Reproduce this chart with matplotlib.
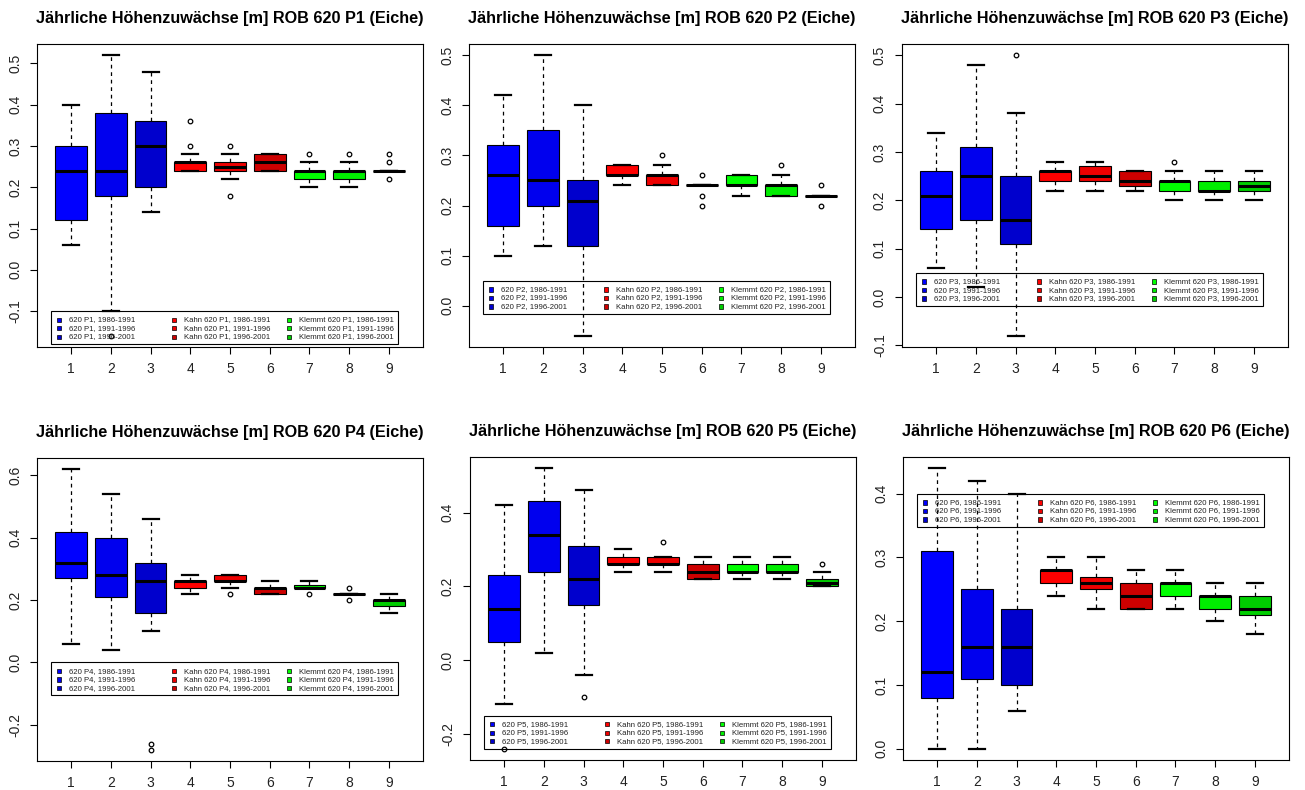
import matplotlib
matplotlib.use('Agg')
import matplotlib.pyplot as plt
import matplotlib.transforms as mtransforms
from matplotlib.patches import Rectangle

plt.rcParams['font.family'] = ['Liberation Sans', 'DejaVu Sans']

# --- box statistics (whisker low, q1, median, q3, whisker high, outliers)
P1_LOW = [0.06, -0.10, 0.14, 0.24, 0.22, 0.24, 0.20, 0.20, 0.24]
P1_Q1 = [0.12, 0.18, 0.20, 0.24, 0.24, 0.24, 0.22, 0.22, 0.24]
P1_MED = [0.24, 0.24, 0.30, 0.26, 0.25, 0.26, 0.24, 0.24, 0.24]
P1_Q3 = [0.30, 0.38, 0.36, 0.26, 0.26, 0.28, 0.24, 0.24, 0.24]
P1_HIGH = [0.40, 0.52, 0.48, 0.28, 0.28, 0.28, 0.26, 0.26, 0.24]
P1_OUT = [[], [-0.16], [], [0.36, 0.30], [0.30, 0.18], [], [0.28], [0.28], [0.28, 0.26, 0.22]]

P2_LOW = [0.10, 0.12, -0.06, 0.24, 0.24, 0.24, 0.22, 0.22, 0.22]
P2_Q1 = [0.16, 0.20, 0.12, 0.26, 0.24, 0.24, 0.24, 0.22, 0.22]
P2_MED = [0.26, 0.25, 0.21, 0.26, 0.26, 0.24, 0.24, 0.24, 0.22]
P2_Q3 = [0.32, 0.35, 0.25, 0.28, 0.26, 0.24, 0.26, 0.24, 0.22]
P2_HIGH = [0.42, 0.50, 0.40, 0.28, 0.28, 0.24, 0.26, 0.26, 0.22]
P2_OUT = [[], [], [], [], [0.30], [0.26, 0.22, 0.20], [], [0.28], [0.24, 0.20]]

P3_LOW = [0.06, 0.02, -0.08, 0.22, 0.22, 0.22, 0.20, 0.20, 0.20]
P3_Q1 = [0.14, 0.16, 0.11, 0.24, 0.24, 0.23, 0.22, 0.22, 0.22]
P3_MED = [0.21, 0.25, 0.16, 0.26, 0.25, 0.24, 0.24, 0.22, 0.23]
P3_Q3 = [0.26, 0.31, 0.25, 0.26, 0.27, 0.26, 0.24, 0.24, 0.24]
P3_HIGH = [0.34, 0.48, 0.38, 0.28, 0.28, 0.26, 0.26, 0.26, 0.26]
P3_OUT = [[], [], [0.50], [], [], [], [0.28], [], []]

P4_LOW = [0.06, 0.04, 0.10, 0.22, 0.24, 0.22, 0.24, 0.22, 0.16]
P4_Q1 = [0.27, 0.21, 0.16, 0.24, 0.26, 0.22, 0.24, 0.22, 0.18]
P4_MED = [0.32, 0.28, 0.26, 0.26, 0.26, 0.24, 0.24, 0.22, 0.20]
P4_Q3 = [0.42, 0.40, 0.32, 0.26, 0.28, 0.24, 0.25, 0.22, 0.20]
P4_HIGH = [0.62, 0.54, 0.46, 0.28, 0.28, 0.26, 0.26, 0.22, 0.22]
P4_OUT = [[], [], [-0.26, -0.28], [], [0.22], [], [0.22], [0.24, 0.20], []]

P5_LOW = [-0.12, 0.02, -0.04, 0.24, 0.24, 0.22, 0.22, 0.22, 0.20]
P5_Q1 = [0.05, 0.24, 0.15, 0.26, 0.26, 0.22, 0.24, 0.24, 0.20]
P5_MED = [0.14, 0.34, 0.22, 0.26, 0.26, 0.24, 0.24, 0.24, 0.21]
P5_Q3 = [0.23, 0.43, 0.31, 0.28, 0.28, 0.26, 0.26, 0.26, 0.22]
P5_HIGH = [0.42, 0.52, 0.46, 0.30, 0.28, 0.28, 0.28, 0.28, 0.24]
P5_OUT = [[-0.24], [], [-0.10], [], [0.32], [], [], [], [0.26]]

P6_LOW = [0.00, 0.00, 0.06, 0.24, 0.22, 0.22, 0.22, 0.20, 0.18]
P6_Q1 = [0.08, 0.11, 0.10, 0.26, 0.25, 0.22, 0.24, 0.22, 0.21]
P6_MED = [0.12, 0.16, 0.16, 0.28, 0.26, 0.24, 0.26, 0.24, 0.22]
P6_Q3 = [0.31, 0.25, 0.22, 0.28, 0.27, 0.26, 0.26, 0.24, 0.24]
P6_HIGH = [0.44, 0.42, 0.40, 0.30, 0.30, 0.28, 0.28, 0.26, 0.26]
P6_OUT = [[], [], [], [], [], [], [], [], []]

PANEL_NAMES = ['P1', 'P2', 'P3', 'P4', 'P5', 'P6']
Y_TICKS = [
    [-0.1, 0.0, 0.1, 0.2, 0.3, 0.4, 0.5],
    [0.0, 0.1, 0.2, 0.3, 0.4, 0.5],
    [-0.1, 0.0, 0.1, 0.2, 0.3, 0.4, 0.5],
    [-0.2, 0.0, 0.2, 0.4, 0.6],
    [-0.2, 0.0, 0.2, 0.4],
    [0.0, 0.1, 0.2, 0.3, 0.4],
]
LEGEND_X = 0.5
LEGEND_TOP = [-0.10, 0.05, 0.05, 0.00, -0.15, 0.40]
X_TICKS = [1, 2, 3, 4, 5, 6, 7, 8, 9]

PERIODS = ['1986-1991', '1991-1996', '1996-2001']
GROUPS = ['', 'Kahn ', 'Klemmt ']
BOX_COLORS = ['#0000FF', '#0000EE', '#0000CD',
              '#FF0000', '#EE0000', '#CD0000',
              '#00FF00', '#00EE00', '#00CD00']

ALL_STATS = [
    (P1_LOW, P1_Q1, P1_MED, P1_Q3, P1_HIGH, P1_OUT),
    (P2_LOW, P2_Q1, P2_MED, P2_Q3, P2_HIGH, P2_OUT),
    (P3_LOW, P3_Q1, P3_MED, P3_Q3, P3_HIGH, P3_OUT),
    (P4_LOW, P4_Q1, P4_MED, P4_Q3, P4_HIGH, P4_OUT),
    (P5_LOW, P5_Q1, P5_MED, P5_Q3, P5_HIGH, P5_OUT),
    (P6_LOW, P6_Q1, P6_MED, P6_Q3, P6_HIGH, P6_OUT),
]

DPI = 100
FIG_W, FIG_H = 1305, 790
# top-left corner of each plot region in pixels
AXES_PX = [(37, 44), (469, 44), (902, 44), (37, 458), (470, 457), (903, 457)]
AX_W, AX_H = 386, 303

fig = plt.figure(figsize=(FIG_W / DPI, FIG_H / DPI), dpi=DPI)


def draw_legend(ax, x0, y0, name):
    # legend laid out in inches relative to a data anchor (top-left corner)
    t = fig.dpi_scale_trans + mtransforms.ScaledTranslation(x0, y0, ax.transData)
    ax.add_patch(Rectangle((0, -0.33), 3.47, 0.33, transform=t, fill=False,
                           ec='black', lw=0.8))
    for g in range(3):
        for r in range(3):
            k = g * 3 + r
            mx = 0.08 + g * 1.15
            my = -(0.087 + r * 0.085)
            ax.add_patch(Rectangle((mx - 0.022, my - 0.022), 0.044, 0.044, transform=t,
                                   fc=BOX_COLORS[k], ec='black', lw=0.5))
            ax.text(mx + 0.10, my, f"{GROUPS[g]}620 {name}, {PERIODS[r]}", transform=t,
                    fontsize=5.6, va='center', ha='left', color='#222222')


for i, name in enumerate(PANEL_NAMES):
    px, py = AXES_PX[i]
    ax = fig.add_axes([px / FIG_W, 1 - (py + AX_H) / FIG_H, AX_W / FIG_W, AX_H / FIG_H])
    lo, q1, med, q3, hi, out = ALL_STATS[i]
    stats = [dict(whislo=lo[j], q1=q1[j], med=med[j], q3=q3[j], whishi=hi[j], fliers=out[j])
             for j in range(9)]
    bp = ax.bxp(stats, positions=X_TICKS, widths=0.8, capwidths=0.4, patch_artist=True,
                boxprops=dict(edgecolor='black', linewidth=0.8),
                whiskerprops=dict(color='black', linestyle=(0, (3, 3)), linewidth=0.9),
                capprops=dict(color='black', linewidth=1.6),
                medianprops=dict(color='black', linewidth=2.2, solid_capstyle='butt'),
                flierprops=dict(marker='o', markerfacecolor='none', markeredgecolor='black',
                                markersize=3.3, markeredgewidth=0.9))
    for patch, c in zip(bp['boxes'], BOX_COLORS):
        patch.set_facecolor(c)

    # R-style 4% padding around data range
    ymin = min(lo + [v for o in out for v in o])
    ymax = max(hi + [v for o in out for v in o])
    pad = 0.04 * (ymax - ymin)
    ax.set_ylim(ymin - pad, ymax + pad)
    ax.set_xlim(0.14, 9.86)

    ax.set_xticks(X_TICKS)
    ax.set_xticklabels([str(v) for v in X_TICKS], fontsize=10, color='#222222')
    ax.set_yticks(Y_TICKS[i])
    ax.set_yticklabels([f"{v:.1f}" for v in Y_TICKS[i]], rotation=90, va='center',
                       fontsize=10, color='#222222')
    ax.tick_params(direction='out', length=4.8, width=0.8, pad=6)
    for s in ax.spines.values():
        s.set_linewidth(0.8)

    ax.set_title(f"Jährliche Höhenzuwächse [m] ROB 620 {name} (Eiche)",
                 fontsize=11.7, fontweight='bold', pad=15)

    draw_legend(ax, LEGEND_X, LEGEND_TOP[i], name)

fig.savefig('out.png', dpi=DPI)
